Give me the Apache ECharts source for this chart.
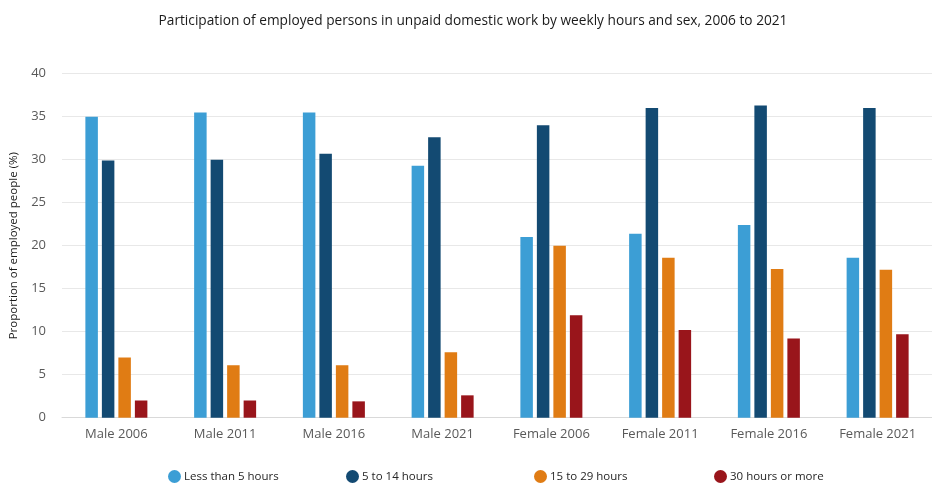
<!DOCTYPE html>
<html>
<head>
<meta charset="utf-8">
<script src="https://cdn.jsdelivr.net/npm/echarts@6/dist/echarts.min.js"></script>
<style>
html,body{margin:0;padding:0;background:#fff;}
#chart{width:932px;height:486px;}
</style>
</head>
<body>
<div id="chart"></div>
<script>
const categories = ['Male 2006','Male 2011','Male 2016','Male 2021','Female 2006','Female 2011','Female 2016','Female 2021'];
const seriesNames = ['Less than 5 hours','5 to 14 hours','15 to 29 hours','30 hours or more'];
const lessThan5 = [35.0, 35.5, 35.5, 29.3, 21.0, 21.4, 22.4, 18.6];
const from5to14 = [29.9, 30.0, 30.7, 32.6, 34.0, 36.0, 36.3, 36.0];
const from15to29 = [7.0, 6.1, 6.1, 7.6, 20.0, 18.6, 17.3, 17.2];
const over30 = [2.0, 2.0, 1.9, 2.6, 11.9, 10.2, 9.2, 9.7];
const yTicks = [0, 5, 10, 15, 20, 25, 30, 35, 40];

const colors = ['#3c9ed5', '#134a72', '#e07c14', '#99151b'];
const values = [lessThan5, from5to14, from15to29, over30];
const legendX = [163, 341, 529, 709];

const chart = echarts.init(document.getElementById('chart'), null, {renderer: 'canvas'});
chart.setOption({
  animation: false,
  color: colors,
  title: {
    text: 'Participation of employed persons in unpaid domestic work by weekly hours and sex, 2006 to 2021',
    left: 468,
    textAlign: 'center',
    top: 9,
    textStyle: {fontFamily: 'Open Sans', fontSize: 13.7, fontWeight: 'normal', color: '#1a1a1a'}
  },
  legend: seriesNames.map((n, i) => ({
    data: [n],
    left: legendX[i],
    top: 465,
    icon: 'circle',
    itemWidth: 13,
    itemHeight: 13,
    itemGap: 0,
    textStyle: {fontFamily: 'Open Sans', fontSize: 11.5, color: '#262626', padding: [0, 0, 0, -2]}
  })),
  grid: {left: 60, top: 73.7, width: 881, height: 344, containLabel: false},
  xAxis: {
    type: 'category',
    data: categories,
    axisTick: {show: false},
    axisLine: {lineStyle: {color: '#d9d9d9'}},
    axisLabel: {fontFamily: 'Open Sans', fontSize: 13, color: '#595959', margin: 10}
  },
  yAxis: {
    type: 'value',
    min: yTicks[0],
    max: yTicks[yTicks.length - 1],
    interval: 5,
    name: 'Proportion of employed people (%)',
    nameLocation: 'middle',
    nameGap: 42,
    nameTextStyle: {fontFamily: 'Open Sans', fontSize: 11.5, color: '#1a1a1a'},
    axisLine: {show: false},
    axisTick: {show: false},
    axisLabel: {fontFamily: 'Open Sans', fontSize: 13, color: '#595959', margin: 16},
    splitLine: {lineStyle: {color: '#e8e8e8'}}
  },
  series: seriesNames.map((n, i) => ({
    name: n,
    type: 'bar',
    data: values[i],
    barWidth: 12.5,
    barGap: '32%',
    itemStyle: {color: colors[i]}
  }))
});
</script>
</body>
</html>
